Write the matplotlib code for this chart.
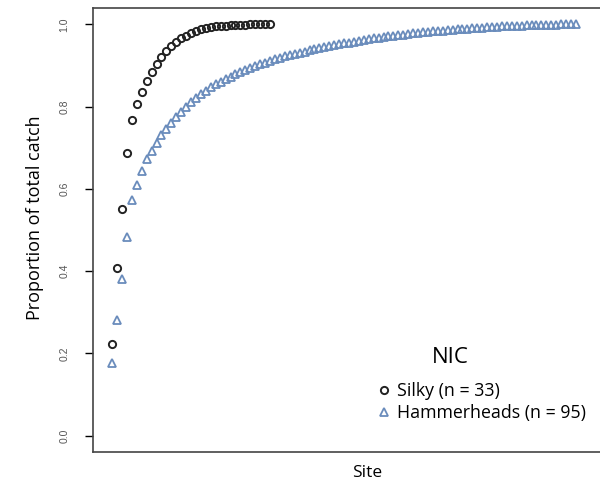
import matplotlib
matplotlib.use('Agg')
import matplotlib.pyplot as plt

# cumulative proportion of total catch by site (sorted)
silky = [0.222, 0.408, 0.550, 0.688, 0.768, 0.806, 0.836, 0.862, 0.884, 0.904,
         0.921, 0.936, 0.948, 0.958, 0.966, 0.973, 0.979, 0.984, 0.988, 0.991,
         0.993, 0.995, 0.996, 0.997, 0.998, 0.998, 0.999, 0.999, 1.0, 1.0,
         1.0, 1.0, 1.0]

hammerheads = [0.177, 0.281, 0.380, 0.482, 0.574, 0.610, 0.644, 0.673, 0.693, 0.712,
               0.730, 0.746, 0.761, 0.775, 0.788, 0.800, 0.811, 0.821, 0.830, 0.839,
               0.847, 0.854, 0.861, 0.867, 0.873, 0.879, 0.884, 0.889, 0.894, 0.899,
               0.903, 0.907, 0.911, 0.915, 0.918, 0.922, 0.925, 0.928, 0.931, 0.934,
               0.937, 0.940, 0.942, 0.945, 0.947, 0.950, 0.952, 0.954, 0.956, 0.958,
               0.960, 0.962, 0.964, 0.966, 0.967, 0.969, 0.971, 0.972, 0.974, 0.975,
               0.977, 0.978, 0.979, 0.981, 0.982, 0.983, 0.984, 0.985, 0.986, 0.987,
               0.988, 0.989, 0.990, 0.991, 0.992, 0.992, 0.993, 0.994, 0.994, 0.995,
               0.996, 0.996, 0.997, 0.997, 0.998, 0.998, 0.998, 0.999, 0.999, 0.999,
               0.999, 1.0, 1.0, 1.0, 1.0]

labels = ['Silky (n = 33)', 'Hammerheads (n = 95)']
yticks = [0.0, 0.2, 0.4, 0.6, 0.8, 1.0]

plt.rcParams['font.family'] = ['Open Sans', 'DejaVu Sans']

fig = plt.figure(figsize=(6, 4.86), dpi=100)
ax = fig.add_axes([0.155, 0.07, 0.86, 0.9136])

ax.plot(range(1, len(silky) + 1), silky, linestyle='none', marker='o',
        markersize=5.2, markerfacecolor='none', markeredgecolor='#222222',
        markeredgewidth=1.4, label=labels[0])
ax.plot(range(1, len(hammerheads) + 1), hammerheads, linestyle='none', marker='^',
        markersize=6.2, markerfacecolor='none', markeredgecolor='#6a8cbc',
        markeredgewidth=1.3, label=labels[1])

ax.set_xlim(-2.88, 101.7)
ax.set_ylim(-0.04, 1.04)
ax.set_xticks([])
ax.set_yticks(yticks)
ax.set_yticklabels([f'{t:.1f}' for t in yticks], rotation=90, va='center',
                   fontsize=7.5, color='#555555', family='Liberation Sans')
ax.tick_params(axis='y', length=6, width=1.0, pad=11)
for s in ax.spines.values():
    s.set_linewidth(1.2)
    s.set_color('#444444')

ax.set_ylabel('Proportion of total catch', fontsize=13)
ax.yaxis.set_label_coords(-0.094, 0.527)
ax.set_xlabel('Site', fontsize=12.5)
ax.xaxis.set_label_coords(0.531, -0.03)

ax.legend(loc='upper left', bbox_to_anchor=(0.537, 0.173), frameon=False,
          fontsize=12.8, handletextpad=0.3, handlelength=0.8, borderaxespad=0,
          labelspacing=0.2)
ax.text(0.693, 0.19, 'NIC', transform=ax.transAxes, ha='center', va='bottom',
        fontsize=16)

plt.savefig('out.png', dpi=100)
plt.close()
